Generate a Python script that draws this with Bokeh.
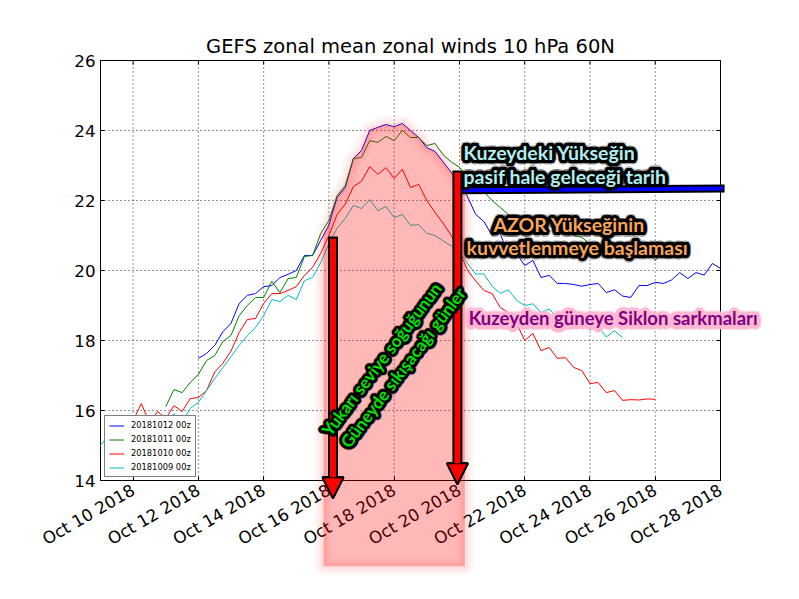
import math

import numpy as np
import pandas as pd
from bokeh.embed import file_html
from bokeh.models import (Arrow, ColumnDataSource, DatetimeTickFormatter, FixedTicker,
                          Label, Legend, LegendItem, NormalHead, PolyAnnotation, Range1d)
from bokeh.plotting import figure
from bokeh.resources import INLINE

# ---------------------------------------------------------------- data
RUN_LABELS = ["20181012 00z", "20181011 00z", "20181010 00z", "20181009 00z"]
RUN_STARTS = ["2018-10-12 00:00", "2018-10-11 00:00", "2018-10-10 00:00", "2018-10-09 00:00"]
RUN_COLORS = ["#0000ff", "#008000", "#ff0000", "#00bfbf"]

# 6-hourly zonal-mean zonal wind (m/s), 10 hPa, 60N
wind_20181012 = [17.49, 17.63, 17.86, 18.25, 18.49, 19.06, 19.29, 19.34, 19.54, 19.57,
                 19.8, 19.89, 20.0, 20.43, 20.43, 20.86, 21.3, 22.09, 22.37, 23.2,
                 23.43, 24.0, 24.09, 24.17, 24.11, 24.2, 24.0, 23.8, 23.51, 23.4,
                 23.1, 22.8, 22.5, 22.1, 21.6, 21.4, 21.0, 21.06, 20.43, 20.49,
                 20.14, 20.29, 19.8, 19.86, 19.63, 19.63, 19.6, 19.55, 19.6, 19.63,
                 19.37, 19.45, 19.27, 19.23, 19.57, 19.57, 19.66, 19.63, 19.73, 19.94,
                 19.77, 19.94, 19.87, 20.2, 20.06]
wind_20181011 = [16.11, 16.6, 16.51, 16.8, 17.03, 17.43, 17.57, 17.97, 18.15, 18.71,
                 19.0, 19.23, 19.23, 19.69, 19.37, 19.77, 19.8, 20.4, 20.43, 21.06,
                 21.43, 22.14, 22.43, 23.2, 23.23, 23.71, 23.66, 23.83, 23.71, 24.0,
                 23.8, 23.8, 23.57, 23.63, 23.3, 23.1, 22.95, 22.65, 22.45, 22.25,
                 22.0, 21.8, 21.6, 21.45, 21.3, 21.23, 21.09, 21.29, 21.09, 21.23,
                 21.0, 20.95, 20.75, 20.8, 20.55, 20.65, 20.5, 20.6, 20.43, 20.51,
                 20.29, 20.51, 20.43, 20.51, 20.5]
wind_20181010 = [15.71, 16.2, 15.66, 15.97, 15.77, 16.14, 15.97, 16.34, 16.37, 16.57,
                 17.1, 17.35, 17.7, 18.23, 18.6, 18.63, 19.06, 19.34, 19.34, 19.43,
                 19.54, 19.86, 20.09, 20.49, 21.0, 21.6, 21.9, 22.4, 22.55, 22.97,
                 22.75, 22.94, 22.63, 22.89, 22.37, 22.46, 22.0, 21.66, 21.35, 21.0,
                 20.55, 20.0, 19.7, 19.43, 19.34, 18.94, 18.8, 18.5, 18.0, 18.2,
                 17.71, 17.8, 17.49, 17.51, 17.23, 17.14, 16.77, 16.8, 16.51, 16.57,
                 16.29, 16.31, 16.3, 16.33, 16.32]
wind_20181009 = [15.0, 15.3, 15.45, 15.55, 15.74, 15.71, 15.63, 15.69, 15.63, 15.91,
                 15.66, 16.06, 16.23, 16.57, 16.91, 17.23, 17.54, 17.86, 18.14, 18.37,
                 18.71, 19.17, 19.11, 19.29, 19.17, 19.71, 19.8, 20.23, 20.77, 21.2,
                 21.49, 21.86, 21.77, 22.03, 21.71, 21.83, 21.51, 21.6, 21.29, 21.31,
                 21.06, 21.0, 20.85, 20.7, 20.55, 20.2, 19.9, 19.9, 19.55, 19.35,
                 19.45, 19.15, 19.0, 19.05, 18.8, 18.9, 18.65, 18.75, 18.6, 18.65,
                 18.3, 18.4, 18.1, 18.28, 18.08]
RUN_VALUES = [wind_20181012, wind_20181011, wind_20181010, wind_20181009]

X_TICK_DATES = ["2018-10-10", "2018-10-12", "2018-10-14", "2018-10-16", "2018-10-18",
                "2018-10-20", "2018-10-22", "2018-10-24", "2018-10-26", "2018-10-28"]
Y_TICKS = [14, 16, 18, 20, 22, 24, 26]
X_START, X_END = "2018-10-09", "2018-10-28"
Y_MIN, Y_MAX = 14, 26

TITLE = "GEFS zonal mean zonal winds 10 hPa 60N"


def ms(ts):
    return pd.Timestamp(ts).value / 1e6


DAY = 86400000.0

# ---------------------------------------------------------------- geometry
# The drawing frame covers nearly the whole canvas; the axes box sits inside it,
# so the shading, arrows, notes, title and tick labels can spill past the spines
# without being clipped.
BOX_LEFT, BOX_TOP, BOX_W, BOX_H = 100, 60, 620, 420   # axes box in pixels
PAD_SIDE, PAD_TOP, PAD_BOTTOM = 78, 60, 100           # extra frame around the box
px_per_day = BOX_W / ((ms(X_END) - ms(X_START)) / DAY)
px_per_unit = BOX_H / (Y_MAX - Y_MIN)
x_lo = ms(X_START) - PAD_SIDE / px_per_day * DAY
x_hi = ms(X_END) + PAD_SIDE / px_per_day * DAY
y_lo = Y_MIN - PAD_BOTTOM / px_per_unit
y_hi = Y_MAX + PAD_TOP / px_per_unit
tick_dx = 4 / px_per_day * DAY
tick_dy = 4 / px_per_unit

p = figure(width=799, height=599, x_axis_type="datetime",
           x_range=Range1d(x_lo, x_hi), y_range=Range1d(y_lo, y_hi),
           output_backend="svg", toolbar_location=None,
           min_border_left=BOX_LEFT - PAD_SIDE,
           min_border_right=799 - BOX_LEFT - BOX_W - PAD_SIDE,
           min_border_top=BOX_TOP - PAD_TOP,
           min_border_bottom=599 - BOX_TOP - BOX_H - PAD_BOTTOM,
           background_fill_color="white", border_fill_color="white")
p.outline_line_color = None
p.grid.visible = False
p.title.visible = False

x_ticker = FixedTicker(ticks=[ms(d) for d in X_TICK_DATES])
y_ticker = FixedTicker(ticks=Y_TICKS)
date_fmt = "%b %d %Y"
x_fmt = DatetimeTickFormatter(days=date_fmt, months=date_fmt, hours=date_fmt,
                              years=date_fmt, minutes=date_fmt)

xa = p.xaxis[0]
xa.fixed_location = Y_MIN
xa.bounds = (ms(X_START), ms(X_END))
xa.ticker = x_ticker
xa.formatter = x_fmt
xa.major_label_orientation = math.pi / 6
xa.major_label_standoff = 8

ya = p.yaxis[0]
ya.fixed_location = ms(X_START)
ya.bounds = (Y_MIN, Y_MAX)
ya.ticker = y_ticker
ya.major_label_standoff = 5

for ax in (xa, ya):
    ax.major_label_text_font = "DejaVu Sans"
    ax.major_label_text_font_size = "16.7px"
    ax.major_label_text_color = "black"
    ax.major_tick_in = 4
    ax.major_tick_out = 0
    ax.minor_tick_line_color = None
    ax.axis_line_color = None
    ax.major_tick_line_color = "black"

# title, centred over the axes box
p.add_layout(Label(x=(ms(X_START) + ms(X_END)) / 2, y=Y_MAX + 14 / px_per_unit,
                   x_units="data", y_units="data", text=TITLE,
                   text_font="DejaVu Sans", text_font_size="19.5px",
                   text_font_style="normal", text_color="black",
                   text_align="center", text_baseline="middle"))

# dotted grid inside the axes box
grid_x = [ms(d) for d in X_TICK_DATES]
p.segment(x0=grid_x, y0=[Y_MIN] * len(grid_x), x1=grid_x, y1=[Y_MAX] * len(grid_x),
          line_color="black", line_alpha=0.85, line_width=1, line_dash="1 3")
p.segment(x0=[ms(X_START)] * len(Y_TICKS), y0=Y_TICKS, x1=[ms(X_END)] * len(Y_TICKS),
          y1=Y_TICKS, line_color="black", line_alpha=0.85, line_width=1, line_dash="1 3")

# inward ticks on the top and right spines
p.segment(x0=grid_x, y0=[Y_MAX] * len(grid_x), x1=grid_x,
          y1=[Y_MAX - tick_dy] * len(grid_x), line_color="black", line_width=1)
p.segment(x0=[ms(X_END)] * len(Y_TICKS), y0=Y_TICKS,
          x1=[ms(X_END) - tick_dx] * len(Y_TICKS), y1=Y_TICKS,
          line_color="black", line_width=1)

# axes box
p.quad(left=[ms(X_START)], right=[ms(X_END)], bottom=[Y_MIN], top=[Y_MAX],
       fill_color=None, line_color="black", line_width=1)

# ---------------------------------------------------------------- forecast lines
items = []
for label, start, color, vals in zip(RUN_LABELS, RUN_STARTS, RUN_COLORS, RUN_VALUES):
    times = pd.date_range(start, periods=len(vals), freq="6h")
    src = ColumnDataSource(dict(t=times, u=vals))
    r = p.line("t", "u", source=src, line_color=color, line_width=1)
    items.append(LegendItem(label=label, renderers=[r]))

legend = Legend(items=items, location=(PAD_SIDE + 4, PAD_BOTTOM + 3), orientation="vertical",
                label_text_font="DejaVu Sans", label_text_font_size="8.3px",
                label_text_color="black", glyph_width=15, glyph_height=9,
                label_height=9, label_standoff=7, spacing=4, padding=4, margin=0,
                border_line_color="black", border_line_width=1,
                background_fill_color="white", background_fill_alpha=1)
p.add_layout(legend)

# ---------------------------------------------------------------- shaded period
band_start, band_end = ms("2018-10-15 20:00"), ms("2018-10-20 04:00")
band_floor = 11.55
blue_t = np.array([ms(t) for t in pd.date_range(RUN_STARTS[0], periods=len(wind_20181012), freq="6h")])
blue_u = np.array(wind_20181012)
inside = (blue_t > band_start) & (blue_t < band_end)
top_t = np.concatenate([[band_start], blue_t[inside], [band_end]])
top_u = np.concatenate([[np.interp(band_start, blue_t, blue_u)], blue_u[inside],
                        [np.interp(band_end, blue_t, blue_u)]])
band_xs = list(top_t) + [band_end, band_start]
band_ys = list(top_u) + [band_floor, band_floor]

for w, a in ((18, 0.03), (12, 0.04), (6, 0.05)):
    p.add_layout(PolyAnnotation(xs=band_xs, ys=band_ys, xs_units="data", ys_units="data",
                                fill_alpha=0, line_color="red", line_alpha=a, line_width=w,
                                line_join="round"))
p.add_layout(PolyAnnotation(xs=band_xs, ys=band_ys, xs_units="data", ys_units="data",
                            fill_color="red", fill_alpha=0.28, line_color=None))

# ---------------------------------------------------------------- horizontal bar
bar_y0, bar_y1 = 22.29, 22.34
p.add_layout(Arrow(x_start=ms("2018-10-19 21:00"), y_start=bar_y0,
                   x_end=ms("2018-10-28 03:00"), y_end=bar_y1, end=None,
                   line_color="black", line_width=8))
p.add_layout(Arrow(x_start=ms("2018-10-19 21:00"), y_start=bar_y0,
                   x_end=ms("2018-10-28 02:00"), y_end=bar_y1, end=None,
                   line_color="#0000ff", line_width=4))


# ---------------------------------------------------------------- vertical arrows
def down_arrow(when, top, tip):
    x = ms(when)
    p.add_layout(Arrow(x_start=x, y_start=top + 0.06, x_end=x, y_end=tip,
                       line_color="black", line_width=10,
                       end=NormalHead(size=21, fill_color="red", line_color="black",
                                      line_width=2)))
    p.add_layout(Arrow(x_start=x, y_start=top, x_end=x, y_end=tip,
                       line_color="red", line_width=6,
                       end=NormalHead(size=21, fill_color="red", line_color="black",
                                      line_width=2)))


down_arrow("2018-10-16 03:00", 20.91, 13.49)
down_arrow("2018-10-19 22:30", 22.8, 13.89)


# ---------------------------------------------------------------- outlined texts
def ring(radius, n):
    return [(radius * math.cos(2 * math.pi * k / n), radius * math.sin(2 * math.pi * k / n))
            for k in range(n)]


def outlined_text(text, when, val, color, edge, size="19.5px", angle=0.0,
                  align="left", baseline="alphabetic",
                  rings=((3.2, 20), (2.1, 12), (1.0, 8)), edge_alpha=1.0,
                  glow=None, glow_radius=4.6, glow_alpha=0.22):
    x = ms(when)
    common = dict(x=x, y=val, x_units="data", y_units="data", text=text,
                  text_font="Lato", text_font_style="bold", text_font_size=size,
                  angle=angle, angle_units="deg", text_align=align, text_baseline=baseline)
    if glow is not None:
        for dx, dy in ring(glow_radius, 20):
            p.add_layout(Label(x_offset=dx, y_offset=dy, text_color=glow,
                               text_alpha=glow_alpha, **common))
    for r, n in rings:
        for dx, dy in ring(r, n):
            p.add_layout(Label(x_offset=dx, y_offset=dy, text_color=edge,
                               text_alpha=edge_alpha, **common))
    p.add_layout(Label(text_color=color, **common))


CYAN_NOTE, ORANGE_NOTE, PURPLE_NOTE, GREEN_NOTE = "#b2eeee", "#f7a55c", "#800080", "#00e600"

outlined_text("Kuzeydeki Yükseğin", "2018-10-20 03:00", 23.37, CYAN_NOTE, "black",
              glow="black")
outlined_text("pasif hale geleceği tarih", "2018-10-20 03:00", 22.69, CYAN_NOTE, "black",
              glow="black")
outlined_text("AZOR Yükseğinin", "2018-10-21 01:00", 21.31, ORANGE_NOTE, "black",
              glow="black")
outlined_text("kuvvetlenmeye başlaması", "2018-10-20 05:15", 20.66, ORANGE_NOTE, "black",
              glow="black")
outlined_text("Kuzeyden güneye Siklon sarkmaları", "2018-10-20 06:45", 18.63, PURPLE_NOTE,
              "#ffb6d2", size="18.5px", rings=((3.4, 20), (2.2, 12), (1.1, 8)),
              edge_alpha=0.85, glow="#ffb6d2", glow_radius=5.0, glow_alpha=0.3)
outlined_text("Yukarı seviye soğuğunun", "2018-10-17 14:40", 17.47, GREEN_NOTE, "black",
              size="17px", angle=53, align="center", baseline="middle",
              rings=((2.8, 20), (1.8, 12), (0.9, 8)), glow="black", glow_radius=3.8)
outlined_text("Güneyde sıkışacağı günler", "2018-10-18 06:30", 17.23, GREEN_NOTE, "black",
              size="17px", angle=53, align="center", baseline="middle",
              rings=((2.8, 20), (1.8, 12), (0.9, 8)), glow="black", glow_radius=3.8)

open("out.html", "w").write(file_html(p, INLINE))
